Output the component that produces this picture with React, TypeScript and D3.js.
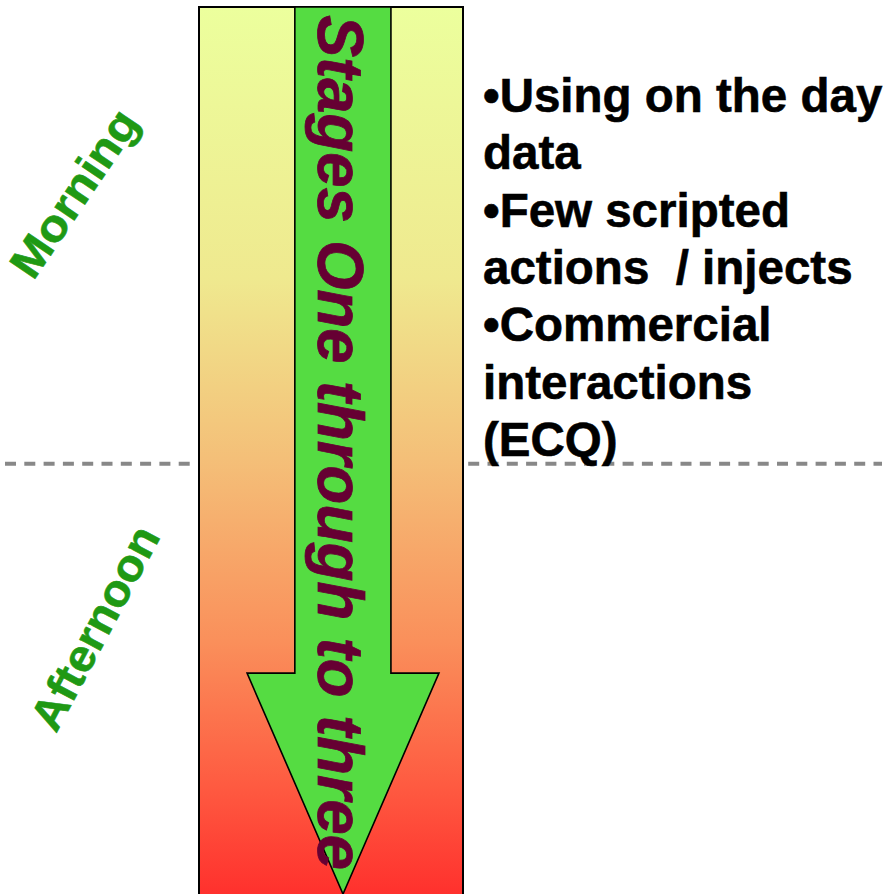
import React from 'react';
import * as d3 from 'd3';

// day split into two periods, the arrow runs through stages one to three
const periods = ['Morning', 'Afternoon'];
const periodCentres = [0.21, 0.7]; // fraction of the day axis
const middayAt = 0.515;
const stageLabel = 'Stages One through to three';
const bulletLines = [
  '\u2022Using on the day',
  'data',
  '\u2022Few scripted',
  'actions  / injects',
  '\u2022Commercial',
  'interactions',
  '(ECQ)',
];
const gradientStops = [
  { offset: 0, color: '#ecff9d' },
  { offset: 0.3, color: '#efe98f' },
  { offset: 0.5, color: '#f4bf78' },
  { offset: 0.7, color: '#fa905b' },
  { offset: 0.86, color: '#fe5b41' },
  { offset: 1, color: '#ff2a2a' },
];

const W = 888;
const H = 894;

export default function App() {
  // vertical axis = time through the day
  const y = d3.scaleLinear().domain([0, 1]).range([7, 894]);
  // horizontal placement of the band
  const x = d3.scaleLinear().domain([0, 1]).range([199, 463]);

  const shaftL = x(0.363);
  const shaftR = x(0.727);
  const headL = x(0.182);
  const headR = x(0.909);
  const mid = (headL + headR) / 2;
  const headTop = y(0.751);
  const tip = y(1.0);

  const arrow = d3.line()([
    [shaftL, y(0)],
    [shaftR, y(0)],
    [shaftR, headTop],
    [headR, headTop],
    [mid, tip],
    [headL, headTop],
    [shaftL, headTop],
  ]) + 'Z';

  const lineY = y(middayAt);
  const bulletY = d3.scaleLinear().domain([0, bulletLines.length - 1]).range([112, 456]);

  const periodPos = [
    { cx: 74, angle: -56, len: 192 },
    { cx: 95, angle: -62, len: 224 },
  ];

  return (
    <svg width={W} height={H} style={{ position: 'absolute', left: 0, top: 0 }}>
      <defs>
        <linearGradient id="dayGrad" x1="0" y1="0" x2="0" y2="1">
          {gradientStops.map((s) => (
            <stop key={s.offset} offset={s.offset} stopColor={s.color} />
          ))}
        </linearGradient>
      </defs>
      <rect x={0} y={0} width={W} height={H} fill="#fff" />

      <line
        x1={5}
        x2={882}
        y1={lineY}
        y2={lineY}
        stroke="#888"
        strokeWidth={4}
        strokeDasharray="11 8.3"
      />

      <rect
        x={x(0)}
        y={y(0)}
        width={x(1) - x(0)}
        height={H + 10}
        fill="url(#dayGrad)"
        stroke="#000"
        strokeWidth={2}
      />

      <path d={arrow} fill="#55dc42" stroke="#000" strokeWidth={1.6} strokeLinejoin="miter" />

      <text
        transform={`translate(318,${y(0) + 8}) rotate(90)`}
        fontFamily="Liberation Sans, Arial, sans-serif"
        fontWeight="bold"
        fontStyle="italic"
        fontSize={64}
        fill="#660033"
        stroke="#660033"
        strokeWidth={0.8}
        textLength={855}
        lengthAdjust="spacingAndGlyphs"
      >
        {stageLabel}
      </text>

      {periods.map((p, i) => (
        <text
          key={p}
          transform={`translate(${periodPos[i].cx},${y(periodCentres[i])}) rotate(${periodPos[i].angle})`}
          textAnchor="middle"
          dominantBaseline="central"
          fontFamily="Liberation Sans, Arial, sans-serif"
          fontWeight="bold"
          fontSize={45}
          fill="#1f9914"
          stroke="#1f9914"
          strokeWidth={0.6}
          textLength={periodPos[i].len}
          lengthAdjust="spacingAndGlyphs"
        >
          {p}
        </text>
      ))}

      {bulletLines.map((t, i) => (
        <text
          key={i}
          x={483}
          y={bulletY(i)}
          fontFamily="Liberation Sans, Arial, sans-serif"
          fontWeight="bold"
          fontSize={47.5}
          fill="#000"
          stroke="#000"
          strokeWidth={0.6}
          style={{ whiteSpace: 'pre' }}
        >
          {t}
        </text>
      ))}
    </svg>
  );
}
